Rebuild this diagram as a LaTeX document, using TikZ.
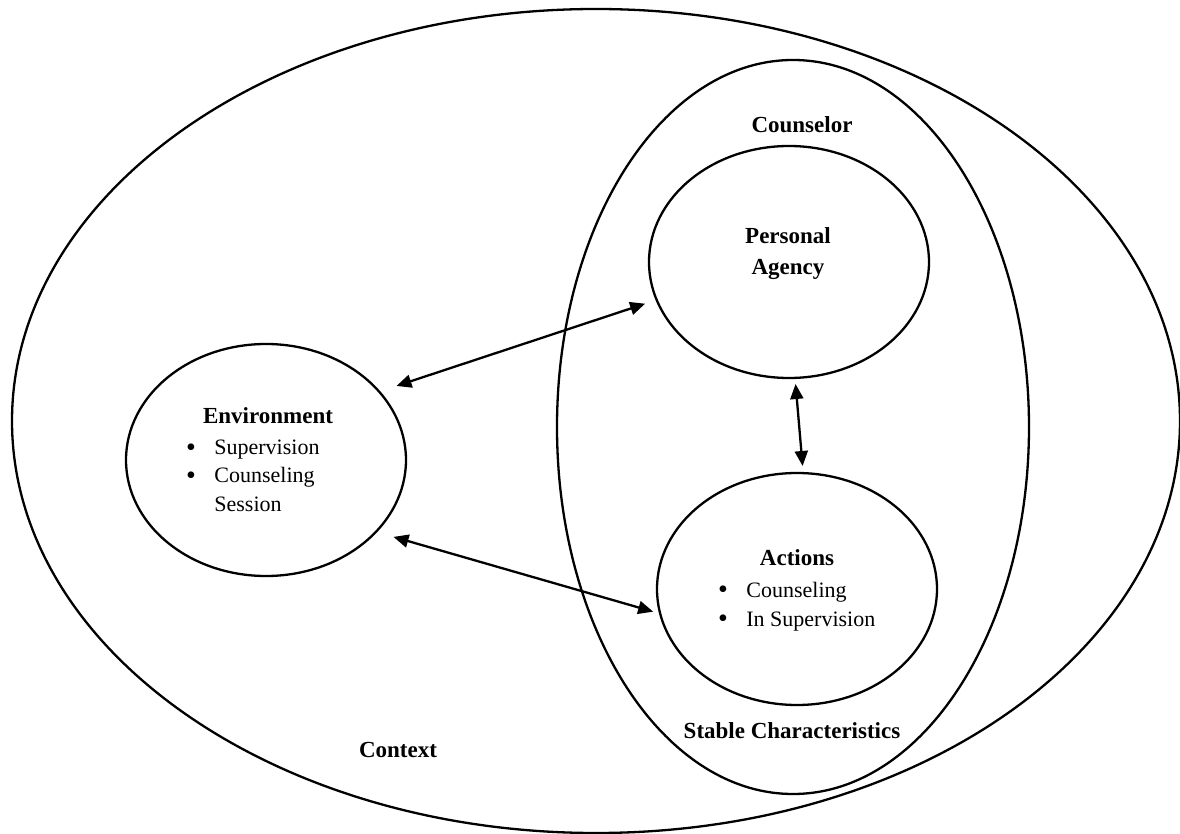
\documentclass[tikz,border=0pt]{standalone}
\usepackage{fontspec}
\setmainfont{Liberation Serif}
\usetikzlibrary{shapes.geometric,arrows.meta}
\tikzset{
  blob/.style={ellipse, draw, line width=1.15pt, inner sep=0pt, minimum width=140pt, minimum height=116pt},
  ttl/.style={font=\fontsize{11.5}{13}\selectfont\bfseries, anchor=base},
  itm/.style={font=\fontsize{11}{13}\selectfont, anchor=base west, inner sep=0pt},
  bul/.style={font=\fontsize{14}{16}\selectfont, anchor=base, inner sep=0pt},
  link/.style={{Triangle[length=7.5pt,width=6.5pt]}-{Triangle[length=7.5pt,width=6.5pt]}, line width=1.15pt}
}
\begin{document}
\begin{tikzpicture}[x=0.5pt,y=-0.5pt]
\useasboundingbox (0,0) rectangle (1180,834);
\node[blob, minimum width=584pt, minimum height=412pt] (ctx) at (596,421){};
\node[blob, minimum width=236pt, minimum height=367pt] (csl) at (793,427){};
\node[blob] (pa) at (789,262){};
\node[blob] (act) at (797,589){};
\node[blob] (env) at (266,460){};

\node[ttl] (cslname) at (802,133){Counselor};
\node[ttl] (paname) at (788,244){Personal};
\node[ttl] (paname2) at (788,275){Agency};

\node[ttl] (envname) at (268,424){Environment};
\node[bul] (envb1) at (191,457){\textbullet};
\node[itm] (envi1) at (214,455){Supervision};
\node[bul] (envb2) at (191,485){\textbullet};
\node[itm] (envi2) at (214,483){Counseling};
\node[itm] (envi3) at (214,512){Session};

\node[ttl] (actname) at (797,566){Actions};
\node[bul] (actb1) at (723,599){\textbullet};
\node[itm] (acti1) at (746,597){Counseling};
\node[bul] (actb2) at (723,628){\textbullet};
\node[itm] (acti2) at (746,626){In Supervision};

\node[ttl] (stable) at (792,739){Stable Characteristics};
\node[ttl] (ctxname) at (398,757){Context};

\draw[link, shorten <=8.5pt, shorten >=5.5pt](env.31) -- (pa.196);
\draw[link, shorten <=8.5pt, shorten >=3pt](env.-33) -- (act.190);
\draw[link, shorten <=2.5pt, shorten >=3pt](pa.273) -- (act.87);

\end{tikzpicture}
\end{document}
